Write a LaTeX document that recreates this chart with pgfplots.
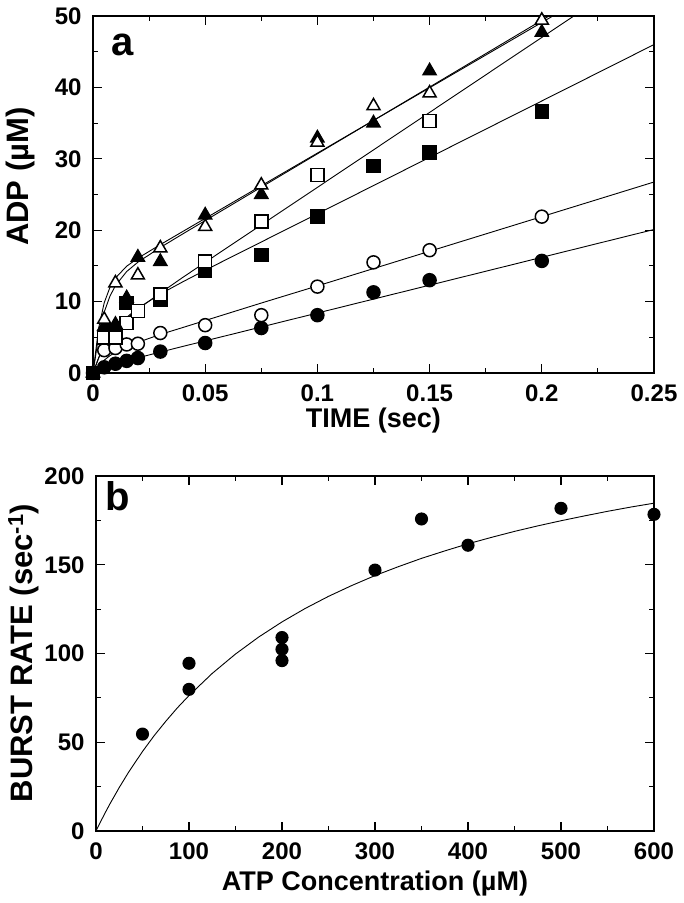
\documentclass[border=0pt]{standalone}
\usepackage{pgfplots}
\pgfplotsset{compat=1.18}
\usepackage{fontspec}
\setmainfont{Liberation Sans}
\newcommand{\tickfont}{\fontsize{24}{24}\selectfont\bfseries}
\newcommand{\labfont}{\fontsize{27}{27}\selectfont\bfseries}
\newcommand{\ylabfont}{\fontsize{31}{31}\selectfont\bfseries}
\newcommand{\letfont}{\fontsize{40}{40}\selectfont\bfseries}
\pgfplotsset{
  myaxis/.style={
    scale only axis, clip=false,
    tick align=inside, major tick length=9pt, minor tick length=5pt,
    every tick/.style={black, line width=1.1pt},
    axis line style={line width=1.4pt},
    ticklabel style={font=\tickfont},
    /pgf/number format/assume math mode=true,
    xticklabel style={yshift=-8pt},
    yticklabel style={xshift=-8pt},
  },
  fitline/.style={black, line width=0.9pt, no marks},
  pts/.style={only marks, line width=1.5pt},
}
\begin{document}
\begin{tikzpicture}
\useasboundingbox (0pt,0pt) rectangle (684pt,-903pt);
% ---------------- panel a ----------------
\begin{axis}[myaxis,
  at={(93pt,-373pt)}, anchor=origin, width=561pt, height=357pt,
  xmin=0, xmax=0.25, ymin=0, ymax=50,
  xtick={0,0.05,0.1,0.15,0.2,0.25}, xticklabels={0,0.05,0.1,0.15,0.2,0.25},
  minor x tick num=1,
  ytick={0,10,20,30,40,50}, minor y tick num=1,
  xlabel={TIME (sec)},
  every axis x label/.style={at={(axis description cs:0.5,-0.134)}, anchor=center, font=\labfont},
  ylabel={ADP (µM)},
  every axis y label/.style={at={(axis description cs:-0.129,0.55)}, anchor=center, rotate=90, font=\ylabfont},
]
% fitted curves
\addplot[fitline] coordinates {(0,0) (0.0025,5.19) (0.005,8.53) (0.0075,10.72) (0.01,12.25) (0.015,14.21) (0.02,15.52) (0.03,17.58) (0.04,19.48) (0.05,21.35) (0.075,26.03) (0.1,30.7) (0.15,40.05) (0.2,49.4) (0.2032,50)};
\addplot[fitline] coordinates {(0,0) (0.0025,6.27) (0.005,9.84) (0.0075,11.95) (0.01,13.3) (0.015,14.96) (0.02,16.08) (0.03,17.98) (0.04,19.82) (0.05,21.65) (0.075,26.23) (0.1,30.8) (0.15,39.95) (0.2,49.1) (0.2049,50)};
\addplot[fitline] coordinates {(0,0) (0.0025,2.1) (0.005,3.7) (0.0075,4.95) (0.01,6.0) (0.015,7.6) (0.02,8.95) (0.03,11.2) (0.04,13.39) (0.05,15.5) (0.075,20.75) (0.1,26.0) (0.15,36.5) (0.2,47.0) (0.2143,50)};
\addplot[fitline] coordinates {(0,0) (0.0025,2.1) (0.005,3.7) (0.0075,5.05) (0.01,6.1) (0.015,7.8) (0.02,9.07) (0.03,11.06) (0.04,12.77) (0.05,14.4) (0.075,18.35) (0.1,22.3) (0.15,30.2) (0.2,38.1) (0.25,46.0)};
\addplot[fitline] coordinates {(0,0) (0.0025,1.0) (0.005,1.8) (0.0075,2.42) (0.01,2.9) (0.015,3.7) (0.02,4.3) (0.03,5.4) (0.04,6.37) (0.05,7.35) (0.075,9.8) (0.1,12.2) (0.15,17.05) (0.2,21.9) (0.25,26.75)};
\addplot[fitline] coordinates {(0,0) (0.0025,0.39) (0.005,0.71) (0.0075,0.99) (0.01,1.25) (0.015,1.7) (0.02,2.13) (0.03,2.93) (0.04,3.72) (0.05,4.5) (0.075,6.45) (0.1,8.4) (0.15,12.3) (0.2,16.2) (0.25,20.1)};
% data: filled circles
\addplot[pts, mark=*, mark size=6.5pt, mark options={fill=black, draw=black}] coordinates {(0,0) (0.005,0.8) (0.01,1.3) (0.015,1.7) (0.02,2.1) (0.03,3.0) (0.05,4.2) (0.075,6.3) (0.1,8.1) (0.125,11.3) (0.15,13.0) (0.2,15.7)};
% open circles
\addplot[pts, mark=*, mark size=6.5pt, mark options={fill=white, draw=black}] coordinates {(0.005,3.2) (0.01,3.5) (0.015,4.0) (0.02,4.1) (0.03,5.6) (0.05,6.7) (0.075,8.1) (0.1,12.1) (0.125,15.5) (0.15,17.2) (0.2,21.9)};
% filled squares
\addplot[pts, mark=square*, mark size=6.5pt, mark options={fill=black, draw=black}] coordinates {(0,0) (0.01,6.0) (0.015,9.8) (0.03,10.2) (0.05,14.3) (0.075,16.5) (0.1,21.9) (0.125,29.0) (0.15,30.9) (0.2,36.6)};
% open squares
\addplot[pts, mark=square*, mark size=6.5pt, mark options={fill=white, draw=black}] coordinates {(0.005,5.0) (0.01,5.0) (0.015,7.0) (0.02,8.7) (0.03,11.0) (0.05,15.6) (0.075,21.2) (0.1,27.7) (0.15,35.3)};
% filled triangles
\addplot[pts, mark=triangle*, mark size=7.5pt, mark options={fill=black, draw=black}] coordinates {(0,0) (0.005,6.5) (0.01,6.8) (0.015,10.5) (0.02,16.2) (0.03,15.6) (0.05,22.1) (0.075,25.0) (0.1,32.9) (0.125,35.0) (0.15,42.3) (0.2,47.7)};
% open triangles
\addplot[pts, mark=triangle*, mark size=7.5pt, mark options={fill=white, draw=black}] coordinates {(0.005,7.5) (0.01,12.6) (0.02,13.7) (0.03,17.5) (0.05,20.5) (0.075,26.3) (0.1,32.3) (0.125,37.4) (0.15,39.2) (0.2,49.4)};
\node[font=\letfont] at (axis description cs:0.052,0.919) {a};
\end{axis}
% ---------------- panel b ----------------
\begin{axis}[myaxis,
  at={(96pt,-831pt)}, anchor=origin, width=558pt, height=355pt,
  xmin=0, xmax=600, ymin=0, ymax=200,
  xtick={0,100,200,300,400,500,600}, minor x tick num=1,
  ytick={0,50,100,150,200}, minor y tick num=1,
  xlabel={ATP Concentration (µM)},
  every axis x label/.style={at={(axis description cs:0.5,-0.149)}, anchor=center, font=\labfont},
  ylabel={BURST RATE (sec\textsuperscript{-1})},
  every axis y label/.style={at={(axis description cs:-0.130,0.501)}, anchor=center, rotate=90, font=\ylabfont},
]
\addplot[fitline] coordinates {(0,0) (5,5.3) (10,10.4) (15,15.3) (25,24.5) (35,33.1) (50,44.8) (62.5,53.7) (75,61.8) (87.5,69.4) (100,76.3) (125,88.8) (150,99.7) (175,109.3) (200,117.8) (225,125.4) (250,132.2) (275,138.3) (300,143.9) (325,148.9) (350,153.6) (375,157.8) (400,161.8) (425,165.4) (450,168.8) (475,171.9) (500,174.8) (525,177.5) (550,180.1) (575,182.5) (600,184.7)};
\addplot[pts, mark=*, mark size=5.8pt, mark options={fill=black, draw=black}] coordinates {(50,54.6) (100,94.5) (100,79.8) (200,109) (200,102.4) (200,96) (300,147) (350,175.8) (400,161) (500,181.8) (600,178.4)};
\node[font=\letfont] at (axis description cs:0.039,0.944) {b};
\end{axis}
\end{tikzpicture}
\end{document}
